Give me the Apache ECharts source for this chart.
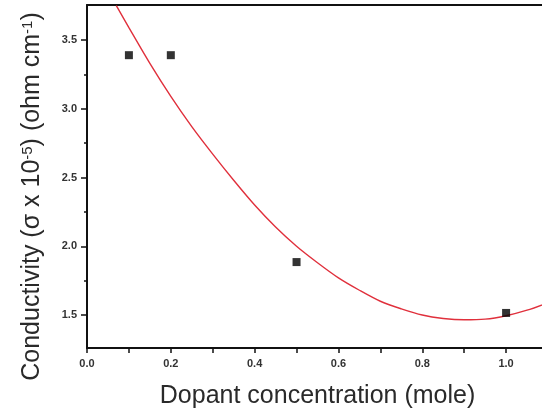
<!DOCTYPE html>
<html>
<head>
<meta charset="utf-8">
<style>
  html, body { margin: 0; padding: 0; background: #fff; overflow: hidden; }
  #chart { width: 542px; height: 415px; }
</style>
<script src="https://cdn.jsdelivr.net/npm/echarts@6/dist/echarts.min.js"></script>
</head>
<body>
<div id="chart"></div>
<script>
// Measured data points (dopant concentration, conductivity)
const pointX = [0.1, 0.2, 0.5, 1.0];
const pointY = [3.39, 3.39, 1.885, 1.515];

// Fitted curve, values
const curveX = [0.07, 0.10, 0.15, 0.20, 0.25, 0.30, 0.35, 0.40, 0.45, 0.50, 0.55, 0.60, 0.65, 0.70, 0.75, 0.80, 0.85, 0.90, 0.95, 1.00, 1.05, 1.10];
const curveY = [3.75, 3.59, 3.33, 3.09, 2.87, 2.67, 2.48, 2.30, 2.14, 2.00, 1.88, 1.77, 1.68, 1.60, 1.545, 1.50, 1.475, 1.465, 1.47, 1.495, 1.535, 1.59];

// Tick labels / positions
const xLabels = [0.0, 0.2, 0.4, 0.6, 0.8, 1.0];
const xTicks = [0.0, 0.1, 0.2, 0.3, 0.4, 0.5, 0.6, 0.7, 0.8, 0.9, 1.0];
const yLabels = [1.5, 2.0, 2.5, 3.0, 3.5];
const yMinorTicks = [1.75, 2.25, 2.75, 3.25];

const FONT = '"Liberation Sans", Arial, Helvetica, sans-serif';
const AX = '#111';

const chart = echarts.init(document.getElementById('chart'), null, { renderer: 'canvas' });

const option = {
  animation: false,
  backgroundColor: '#fff',
  grid: { left: 87, top: 5, width: 461, height: 343, containLabel: false, outerBoundsMode: 'none' },
  xAxis: [
    {
      type: 'value', min: 0, max: 1.1, position: 'bottom',
      axisLine: { show: true, onZero: false, lineStyle: { color: AX, width: 2 } },
      axisTick: { show: true, customValues: xTicks, length: 5, lineStyle: { color: AX, width: 1.5 } },
      axisLabel: {
        customValues: xLabels, margin: 10,
        formatter: v => Number(v).toFixed(1),
        fontSize: 11, fontWeight: 'bold', color: '#333', fontFamily: FONT
      },
      splitLine: { show: false },
      name: 'Dopant concentration (mole)',
      nameLocation: 'middle', nameGap: 36,
      nameTextStyle: { fontSize: 25, color: '#2a2a2a', fontFamily: FONT }
    },
    {
      type: 'value', min: 0, max: 1.1, position: 'top',
      axisLine: { show: true, onZero: false, lineStyle: { color: AX, width: 2 } },
      axisTick: { show: false }, axisLabel: { show: false }, splitLine: { show: false }
    }
  ],
  yAxis: [
    {
      type: 'value', min: 1.26, max: 3.755, position: 'left', offset: 0,
      axisLine: { show: true, onZero: false, lineStyle: { color: AX, width: 2 } },
      axisTick: { show: true, customValues: yLabels, length: 6, lineStyle: { color: AX, width: 1.5 } },
      axisLabel: {
        customValues: yLabels, margin: 10,
        formatter: v => Number(v).toFixed(1),
        fontSize: 11, fontWeight: 'bold', color: '#333', fontFamily: FONT
      },
      splitLine: { show: false },
      name: '{a|Conductivity (σ x 10}{s|-5}{a|) (ohm cm}{s|-1}{a|)}',
      nameLocation: 'middle', nameGap: 42, nameRotate: 90,
      nameTextStyle: {
        padding: [0, 40, 0, 0],
        rich: {
          a: { fontSize: 25, color: '#2a2a2a', fontFamily: FONT, verticalAlign: 'bottom' },
          s: { fontSize: 15, color: '#2a2a2a', fontFamily: FONT, verticalAlign: 'top' }
        }
      }
    },
    {
      type: 'value', min: 1.26, max: 3.755, position: 'left', offset: 0,
      axisLine: { show: false },
      axisTick: { show: true, customValues: yMinorTicks, length: 3, lineStyle: { color: AX, width: 1.5 } },
      axisLabel: { show: false },
      splitLine: { show: false }
    }
  ],
  series: [
    {
      type: 'line', name: 'fit', xAxisIndex: 0, yAxisIndex: 0,
      data: curveX.map((x, i) => [x, curveY[i]]),
      smooth: 0.3, showSymbol: false, symbol: 'none',
      lineStyle: { color: '#e0303c', width: 1.4 },
      clip: true, z: 2
    },
    {
      type: 'scatter', name: 'data', xAxisIndex: 0, yAxisIndex: 0,
      data: pointX.map((x, i) => [x, pointY[i]]),
      symbol: 'rect', symbolSize: 8,
      itemStyle: { color: '#000' }, z: 3
    }
  ]
};

chart.setOption(option);
</script>
</body>
</html>
